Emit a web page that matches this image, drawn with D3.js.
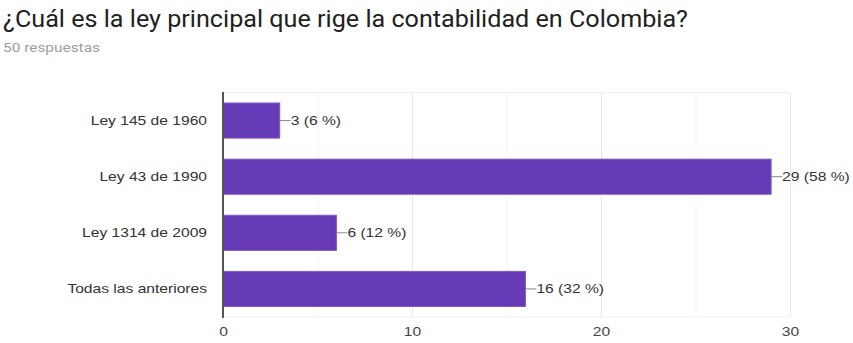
<!DOCTYPE html>
<html>
<head>
<meta charset="utf-8">
<script src="https://cdn.jsdelivr.net/npm/d3@7"></script>
<style>
  html, body { margin: 0; padding: 0; background: #fff; }
  svg { display: block; }
</style>
</head>
<body>
<svg id="chart" width="853" height="343"></svg>
<script>
// Survey question and response count
const title = "¿Cuál es la ley principal que rige la contabilidad en Colombia?";
const subtitle = "50 respuestas";

// Answer options and how many people chose each one
const categories = ["Ley 145 de 1960", "Ley 43 de 1990", "Ley 1314 de 2009", "Todas las anteriores"];
const counts = [3, 29, 6, 16];
const percents = [6, 58, 12, 32];

// Axis ticks
const majorTicks = [0, 10, 20, 30];
const minorTicks = [5, 15, 25];

const svg = d3.select("#chart");
const labelFont = "'Liberation Sans', Arial, sans-serif";
const widen = 1.2; // labels are drawn slightly wide

// Stretch a text selection horizontally while keeping its anchor
function stretch(sel) {
  sel.each(function () {
    const w = this.getComputedTextLength();
    d3.select(this).attr("textLength", w * widen).attr("lengthAdjust", "spacingAndGlyphs");
  });
}

// Header
svg.append("text")
  .attr("x", 3).attr("y", 27)
  .attr("font-family", "Roboto, 'Liberation Sans', Arial, sans-serif")
  .attr("font-size", 24)
  .attr("fill", "#212121")
  .attr("textLength", 685)
  .attr("lengthAdjust", "spacingAndGlyphs")
  .text(title);

svg.append("text")
  .attr("x", 3).attr("y", 52)
  .attr("font-family", "Roboto, 'Liberation Sans', Arial, sans-serif")
  .attr("font-size", 12.5)
  .attr("fill", "#9e9e9e")
  .attr("textLength", 97)
  .attr("lengthAdjust", "spacingAndGlyphs")
  .text(subtitle);

// Scales for the plot area
const x = d3.scaleLinear().domain([0, 30]).range([223, 790]);
const y = d3.scaleBand().domain(categories).range([92.5, 317]).paddingInner(0.375).paddingOuter(0.1875);

const plot = svg.append("g");

// Plot-area frame (top and bottom edges)
plot.append("line")
  .attr("x1", x(0)).attr("x2", x(30))
  .attr("y1", 92.5).attr("y2", 92.5)
  .attr("stroke", "#f0f0f0");
plot.append("line")
  .attr("x1", x(0)).attr("x2", x(30))
  .attr("y1", 317).attr("y2", 317)
  .attr("stroke", "#f0f0f0");

// Minor gridlines
plot.selectAll(".minor").data(minorTicks).join("line")
  .attr("class", "minor")
  .attr("x1", d => x(d) + 0.5).attr("x2", d => x(d) + 0.5)
  .attr("y1", 92.5).attr("y2", 317)
  .attr("stroke", "#f3f3f3");

// Major gridlines
plot.selectAll(".major").data(majorTicks.filter(d => d > 0)).join("line")
  .attr("class", "major")
  .attr("x1", d => x(d) + 0.5).attr("x2", d => x(d) + 0.5)
  .attr("y1", 92.5).attr("y2", 317)
  .attr("stroke", "#e6e6e6");

// Bars
const rows = categories.map((c, i) => ({ cat: c, n: counts[i], pct: percents[i] }));

plot.selectAll(".bar").data(rows).join("rect")
  .attr("class", "bar")
  .attr("x", x(0))
  .attr("y", d => y(d.cat))
  .attr("width", d => x(d.n) - x(0))
  .attr("height", y.bandwidth())
  .attr("fill", "#6639b6")
  .attr("stroke", "#7e57c2")
  .attr("stroke-width", 1);

// Leader lines and value labels
plot.selectAll(".leader").data(rows).join("line")
  .attr("class", "leader")
  .attr("x1", d => x(d.n)).attr("x2", d => x(d.n) + 11)
  .attr("y1", d => y(d.cat) + y.bandwidth() / 2)
  .attr("y2", d => y(d.cat) + y.bandwidth() / 2)
  .attr("stroke", "#888")
  .attr("stroke-width", 1);

plot.selectAll(".value").data(rows).join("text")
  .attr("class", "value")
  .attr("x", d => x(d.n) + 11)
  .attr("y", d => y(d.cat) + y.bandwidth() / 2)
  .attr("dy", "0.35em")
  .attr("font-family", labelFont)
  .attr("font-size", 13)
  .attr("fill", "#333")
  .text(d => `${d.n} (${d.pct} %)`)
  .call(stretch);

// Category labels
const yAxis = d3.axisLeft(y).tickSize(0).tickPadding(16);
const yg = plot.append("g").attr("transform", `translate(${x(0)},0)`).call(yAxis);
yg.select(".domain").remove();
yg.selectAll("text")
  .attr("font-family", labelFont)
  .attr("font-size", 13)
  .attr("fill", "#333")
  .call(stretch);

// Baseline at zero
plot.append("line")
  .attr("x1", x(0)).attr("x2", x(0))
  .attr("y1", 92).attr("y2", 318)
  .attr("stroke", "#555")
  .attr("stroke-width", 2);

// Value axis tick labels
const xAxis = d3.axisBottom(x).tickValues(majorTicks).tickSize(0).tickPadding(10);
const xg = plot.append("g").attr("transform", "translate(0,317)").call(xAxis);
xg.select(".domain").remove();
xg.selectAll("text")
  .attr("font-family", labelFont)
  .attr("font-size", 13)
  .attr("fill", "#444")
  .call(stretch);
</script>
</body>
</html>
